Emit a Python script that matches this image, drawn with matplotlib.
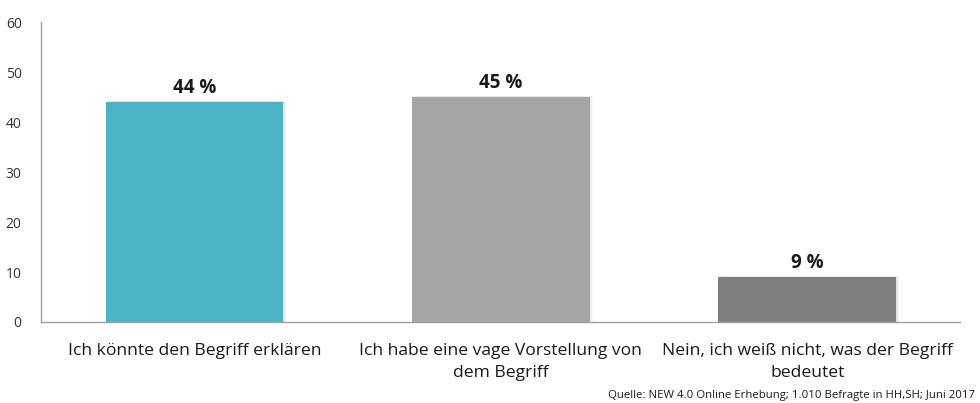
import matplotlib
matplotlib.use("Agg")
import matplotlib.pyplot as plt

categories = [
    "Ich könnte den Begriff erklären",
    "Ich habe eine vage Vorstellung von\ndem Begriff",
    "Nein, ich weiß nicht, was der Begriff\nbedeutet",
]
values = [44, 45, 9]
value_labels = ["44 %", "45 %", "9 %"]
colors = ["#4BB3C4", "#A6A6A6", "#7F7F7F"]
yticks = [0, 10, 20, 30, 40, 50, 60]
source = "Quelle: NEW 4.0 Online Erhebung; 1.010 Befragte in HH,SH; Juni 2017"

plt.rcParams["font.family"] = ["Open Sans", "DejaVu Sans"]

fig = plt.figure(figsize=(9.8, 4.03), dpi=100)
ax = fig.add_axes([0.042, 0.201, 0.938, 0.744])

x = list(range(len(categories)))
# faint drop shadow behind each bar
for dx, a in [(0.006, 0.06), (0.010, 0.04)]:
    ax.bar([i + dx for i in x], [v + 0.15 for v in values], width=0.58,
           color="#000000", alpha=a, zorder=1)
ax.bar(x, values, width=0.58, color=colors, zorder=2)

for i, (v, lab) in enumerate(zip(values, value_labels)):
    ax.annotate(lab, (i, v), xytext=(0, 3), textcoords="offset points",
                ha="center", va="bottom", fontsize=13.5, fontweight="bold",
                color="#1a1a1a")

ax.set_xlim(-0.5, 2.5)
ax.set_ylim(0, 60)
ax.set_yticks(yticks)
ax.set_xticks(x)
ax.set_xticklabels(categories, fontsize=12.6, color="#1a1a1a", linespacing=1.5)
ax.tick_params(axis="y", length=0, pad=14, labelsize=10, labelcolor="#333333")
ax.tick_params(axis="x", length=0, pad=15)

for s in ["top", "right"]:
    ax.spines[s].set_visible(False)
for s in ["left", "bottom"]:
    ax.spines[s].set_color("#A0A0A0")
    ax.spines[s].set_linewidth(1.0)

fig.text(0.995, 0.005, source, ha="right", va="bottom", fontsize=8.2,
         color="#1a1a1a")

fig.savefig("out.png", dpi=100)
